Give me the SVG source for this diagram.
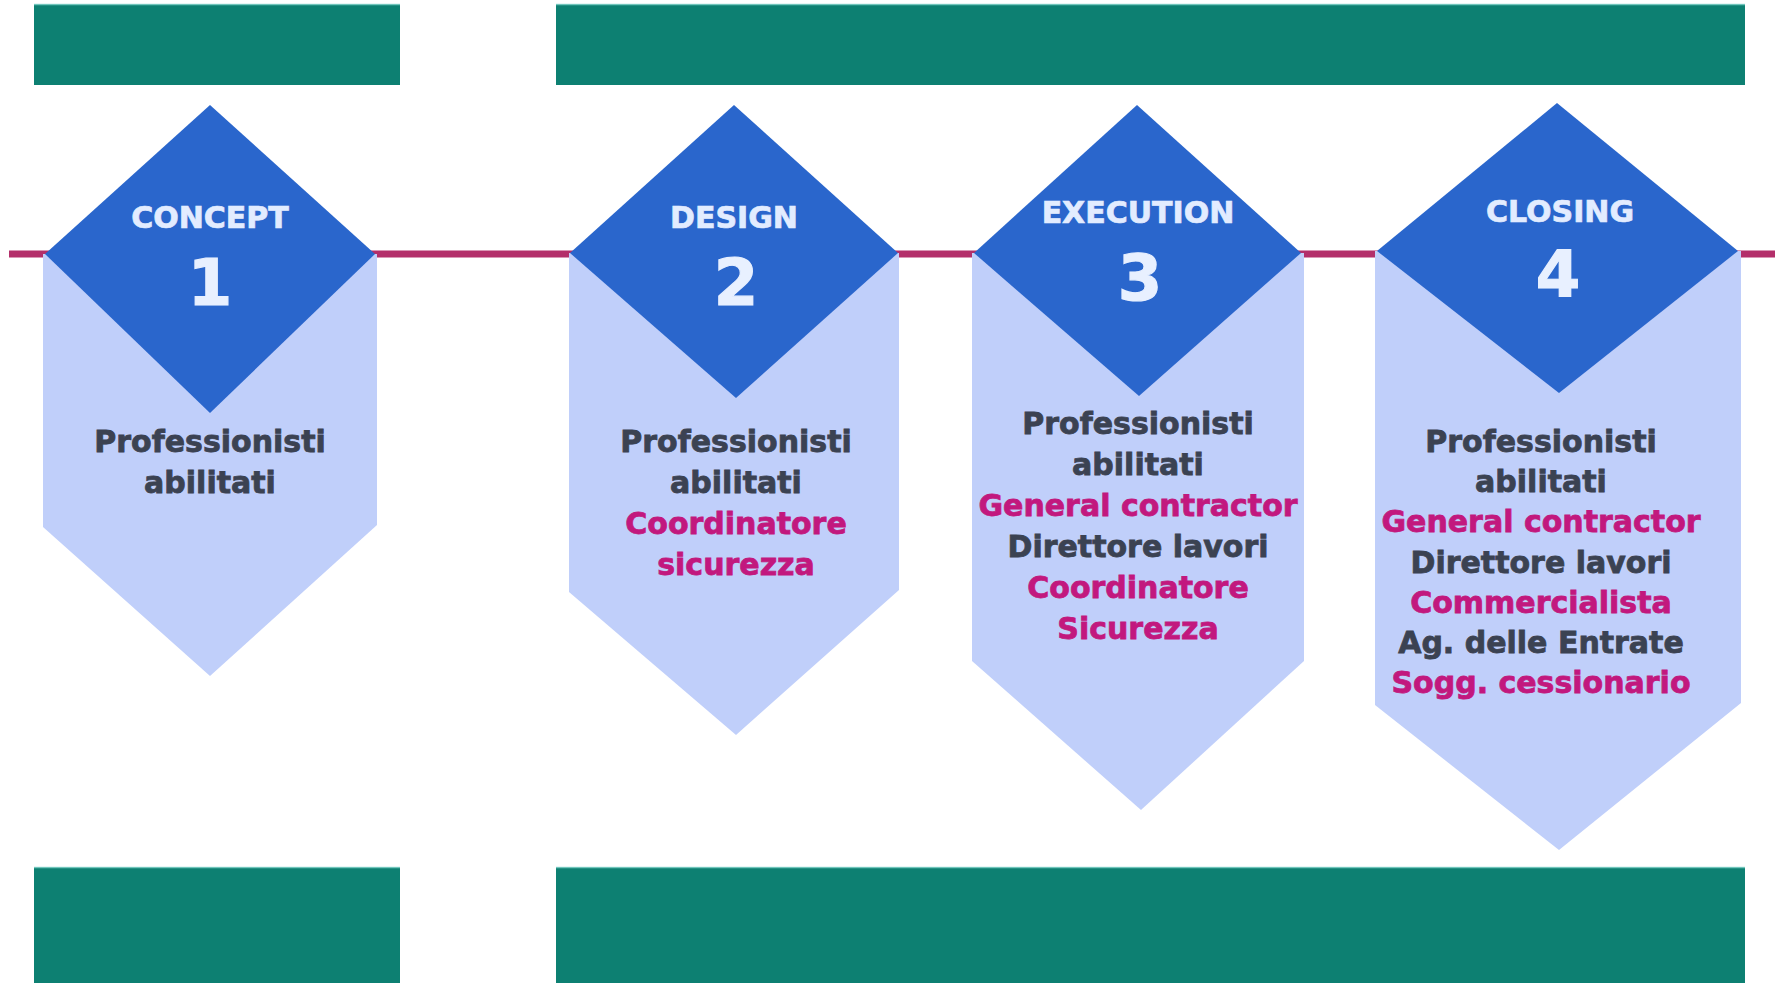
<svg xmlns="http://www.w3.org/2000/svg" width="1775" height="983" viewBox="0 0 1775 983">
<style>
.band{fill:#0d8072}
.edge{stroke:#8ad8cf;stroke-width:1.5;opacity:.8}
.pent{fill:#c0cffa}
.dia{fill:#2a66cc}
.head{font-family:"DejaVu Sans",Verdana,sans-serif;font-weight:bold;font-size:30px;fill:#e2ecff;stroke:#e2ecff;stroke-width:0.7;text-anchor:middle}
.num{font-family:"DejaVu Sans",Verdana,sans-serif;font-weight:bold;font-size:64px;fill:#e8f0ff;stroke:#e8f0ff;stroke-width:1.2;text-anchor:middle}
.t{font-family:"DejaVu Sans",Verdana,sans-serif;font-weight:bold;font-size:30px;text-anchor:middle;stroke-width:0.8}
.d{fill:#3b4252;stroke:#3b4252}
.m{fill:#c2187e;stroke:#c2187e}
.link{stroke:#b32f6a;stroke-width:7;fill:none}
</style>
<rect width="1775" height="983" fill="#ffffff"/>
<g id="bands">
<rect class="band" x="34" y="4" width="366" height="81"/>
<rect class="band" x="556" y="4" width="1189" height="81"/>
<rect class="band" x="34" y="867" width="366" height="116"/>
<rect class="band" x="556" y="867" width="1189" height="116"/>
<line class="edge" x1="34" y1="4.5" x2="400" y2="4.5"/>
<line class="edge" x1="556" y1="4.5" x2="1745" y2="4.5"/>
<line class="edge" x1="34" y1="867.5" x2="400" y2="867.5"/>
<line class="edge" x1="556" y1="867.5" x2="1745" y2="867.5"/>
</g>
<g id="connectors">
<line class="link" x1="9" y1="254" x2="1775" y2="254"/>
</g>
<g id="phase1">
<path class="pent" d="M43,254 L377,254 L377,525 L210,676 L43,527 Z"/>
<path class="dia" d="M210,105 L375,254 L210,413 L45,254 Z"/>
<text class="head" x="210" y="228">CONCEPT</text>
<text class="num" x="210" y="305">1</text>
<text class="t d" x="210" y="452">Professionisti</text>
<text class="t d" x="210" y="493">abilitati</text>
</g>
<g id="phase2">
<path class="pent" d="M569,253 L899,253 L899,590 L736,735 L569,592 Z"/>
<path class="dia" d="M734,105 L898,253 L736,398 L570,253 Z"/>
<text class="head" x="734" y="228">DESIGN</text>
<text class="num" x="736" y="305">2</text>
<text class="t d" x="736" y="452">Professionisti</text>
<text class="t d" x="736" y="493">abilitati</text>
<text class="t m" x="736" y="534">Coordinatore</text>
<text class="t m" x="736" y="575">sicurezza</text>
</g>
<g id="phase3">
<path class="pent" d="M972,253 L1304,253 L1304,661 L1141,810 L972,661 Z"/>
<path class="dia" d="M1137,105 L1301,253 L1139,396 L974,253 Z"/>
<text class="head" x="1138" y="223">EXECUTION</text>
<text class="num" x="1140" y="300">3</text>
<text class="t d" x="1138" y="434">Professionisti</text>
<text class="t d" x="1138" y="475">abilitati</text>
<text class="t m" x="1138" y="516">General contractor</text>
<text class="t d" x="1138" y="557">Direttore lavori</text>
<text class="t m" x="1138" y="598">Coordinatore</text>
<text class="t m" x="1138" y="639">Sicurezza</text>
</g>
<g id="phase4">
<path class="pent" d="M1375,251 L1741,251 L1741,703 L1559,850 L1375,705 Z"/>
<path class="dia" d="M1557,103 L1738,251 L1559,393 L1377,251 Z"/>
<text class="head" x="1560" y="222">CLOSING</text>
<text class="num" x="1558" y="297">4</text>
<text class="t d" x="1541" y="452">Professionisti</text>
<text class="t d" x="1541" y="492">abilitati</text>
<text class="t m" x="1541" y="532">General contractor</text>
<text class="t d" x="1541" y="573">Direttore lavori</text>
<text class="t m" x="1541" y="613">Commercialista</text>
<text class="t d" x="1541" y="653">Ag. delle Entrate</text>
<text class="t m" x="1541" y="693">Sogg. cessionario</text>
</g>
</svg>
